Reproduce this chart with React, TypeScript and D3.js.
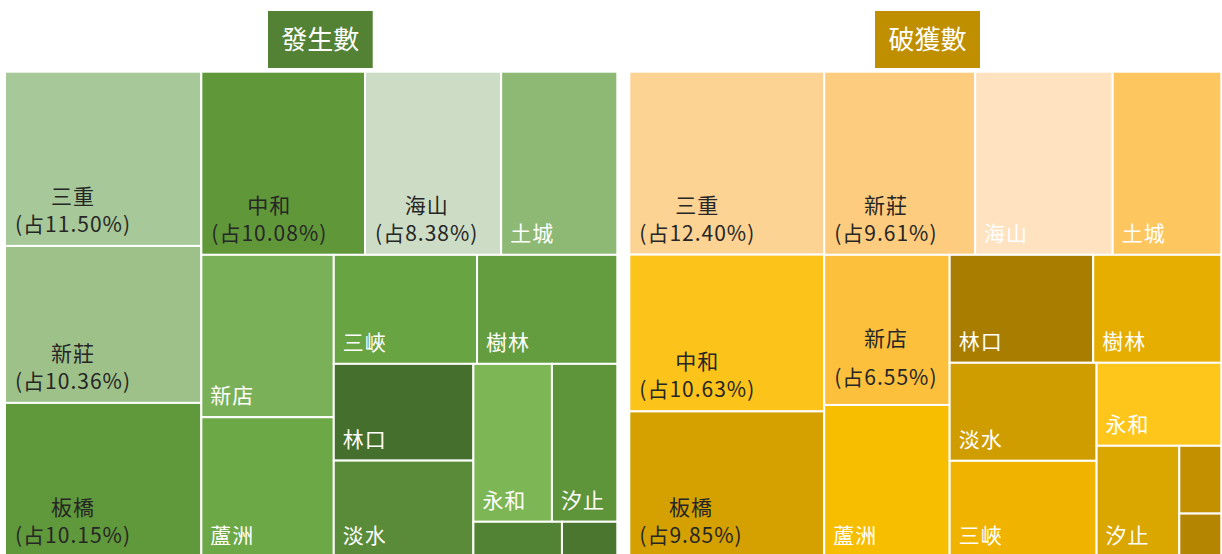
import React, { useEffect, useRef } from "react";
import * as d3 from "d3";

// ---- 發生數 (occurrences) ----
const occurNames = ["三重", "新莊", "板橋", "中和", "海山", "土城", "新店", "蘆洲", "三峽", "樹林", "林口", "淡水", "永和", "汐止", "瑞芳", "金山"];
const occurValues = [11.5, 10.36, 10.15, 10.08, 8.38, 7.15, 7.23, 6.21, 5.25, 5.14, 4.54, 4.51, 4.17, 3.47, 1.04, 0.65];
const occurPct = ["11.50", "10.36", "10.15", "10.08", "8.38", "", "", "", "", "", "", "", "", "", "", ""];
const occurColors = ["#A7C898", "#9DC189", "#60993B", "#609839", "#CCDCC5", "#8DB974", "#7AB058", "#6CA846", "#69A443", "#649D3F", "#456F2C", "#5A8B39", "#7DB755", "#5F953A", "#528334", "#4B762F"];
const occurStrips = [3, 3, 2, 2, 2, 2, 1, 1];

// ---- 破獲數 (cleared cases) ----
const solveNames = ["三重", "中和", "板橋", "新莊", "海山", "土城", "新店", "蘆洲", "林口", "樹林", "淡水", "三峽", "永和", "汐止", "瑞芳", "金山"];
const solveValues = [12.4, 10.63, 9.85, 9.61, 8.76, 6.92, 6.55, 6.62, 5.39, 4.81, 5.01, 4.9, 3.6, 3.19, 0.99, 0.63];
const solvePct = ["12.40", "10.63", "9.85", "9.61", "", "", "6.55", "", "", "", "", "", "", "", "", ""];
const solveColors = ["#FDD394", "#FCC41A", "#D4A100", "#FDCC7E", "#FFE3C1", "#FDC65E", "#FCC03C", "#F7BE00", "#A87D00", "#E6AE00", "#CF9D00", "#F0B400", "#FEC61A", "#DAA600", "#C39000", "#B48500"];
const solveStrips = [3, 3, 2, 2, 2, 1, 1, 1, 1];

const FONT = "'Noto Sans CJK TC', 'Noto Sans', sans-serif";
const LINE_GAP = 28;
// label layout tweaks (style, not data): 新店 on the right panel has wider spacing
const wideLabels: Record<string, { gap: number; bottom: number }> = { "破獲數:新店": { gap: 39, bottom: 20 } };

function stripTile(strips: number[]) {
  return (parent: any, x0: number, y0: number, x1: number, y1: number) => {
    const nodes = parent.children;
    let i = 0;
    let value = parent.value;
    for (const count of strips) {
      if (i >= nodes.length) break;
      const kids = nodes.slice(i, i + count);
      const row: any = { children: kids, value: d3.sum(kids, (d: any) => d.value) };
      const dx = x1 - x0, dy = y1 - y0;
      if (dx < dy) {
        const ny = y0 + (dy * row.value) / value;
        d3.treemapDice(row, x0, y0, x1, ny);
        y0 = ny;
      } else {
        const nx = x0 + (dx * row.value) / value;
        d3.treemapSlice(row, x0, y0, nx, y1);
        x0 = nx;
      }
      value -= row.value;
      i += count;
    }
  };
}

const panels = [
  { title: "發生數", titleColor: "#548235", names: occurNames, values: occurValues, pct: occurPct, colors: occurColors, strips: occurStrips, x: 5, y: 71.7, w: 612.3, h: 485, tx: 268, tw: 104.7 },
  { title: "破獲數", titleColor: "#BF8F00", names: solveNames, values: solveValues, pct: solvePct, colors: solveColors, strips: solveStrips, x: 629.3, y: 71.7, w: 592, h: 485, tx: 875, tw: 105 },
];

export default function App() {
  const ref = useRef<SVGSVGElement>(null);
  useEffect(() => {
    const svg = d3.select(ref.current);
    svg.selectAll("*").remove();
    panels.forEach((p) => {
      svg.append("rect").attr("x", p.tx).attr("y", 11).attr("width", p.tw).attr("height", 57).attr("fill", p.titleColor);
      svg.append("text").attr("x", p.tx + p.tw / 2).attr("y", 49).attr("text-anchor", "middle")
        .attr("font-family", FONT).attr("font-size", 26).attr("fill", "#fff").text(p.title);

      const data = p.names.map((n, i) => ({ name: n, value: p.values[i], pct: p.pct[i], color: p.colors[i] }));
      const root = d3.hierarchy<any>({ children: data }).sum((d: any) => d.value || 0);
      d3.treemap<any>().size([p.w, p.h]).tile(stripTile(p.strips) as any)(root);
      const g = svg.append("g").attr("transform", `translate(${p.x},${p.y})`);
      const leaves = root.leaves() as any[];
      g.selectAll("rect").data(leaves).join("rect")
        .attr("x", (d) => d.x0).attr("y", (d) => d.y0)
        .attr("width", (d) => d.x1 - d.x0).attr("height", (d) => d.y1 - d.y0)
        .attr("fill", (d) => d.data.color).attr("stroke", "#fff").attr("stroke-width", 2);

      leaves.forEach((l) => {
        const cw = l.x1 - l.x0, ch = l.y1 - l.y0;
        if (cw < 50 || ch < 40) return;
        const d = l.data;
        const tweak = wideLabels[`${p.title}:${d.name}`];
        const gap = tweak ? tweak.gap : LINE_GAP;
        const bottom = tweak ? tweak.bottom : 14;
        if (d.pct) {
          const t2 = g.append("text").attr("x", l.x0 + 10).attr("y", l.y1 - bottom)
            .attr("font-family", FONT).attr("font-size", 21).attr("letter-spacing", "1px")
            .attr("fill", "#262626").text(`(占${d.pct}%)`);
          const len = (t2.node() as SVGTextElement).getComputedTextLength();
          g.append("text").attr("x", l.x0 + 10 + len / 2).attr("y", l.y1 - bottom - gap).attr("text-anchor", "middle")
            .attr("font-family", FONT).attr("font-size", 21).attr("letter-spacing", "1px")
            .attr("fill", "#262626").text(d.name);
        } else {
          g.append("text").attr("x", l.x0 + 9).attr("y", l.y1 - 14)
            .attr("font-family", FONT).attr("font-size", 21).attr("letter-spacing", "1px")
            .attr("fill", "#fff").text(d.name);
        }
      });
    });
  }, []);
  return (
    <svg ref={ref} width={1222} height={554} style={{ position: "absolute", left: 0, top: 0, background: "#fff" }} />
  );
}
